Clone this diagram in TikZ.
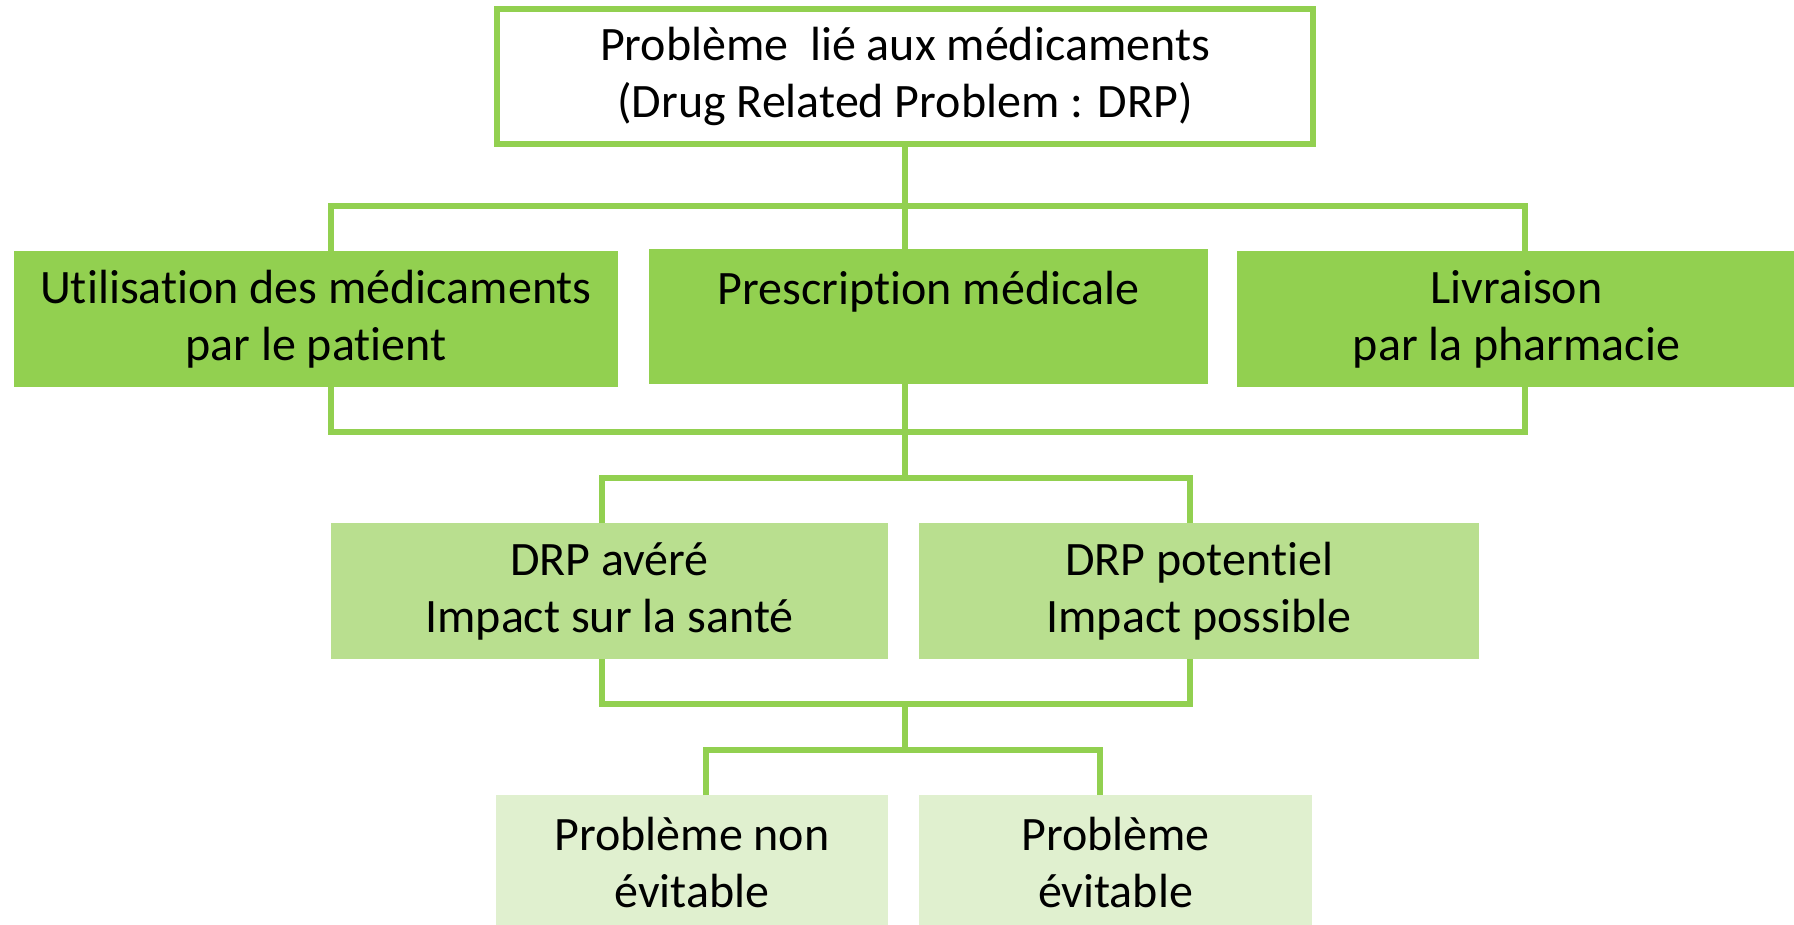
\documentclass[tikz,border=0pt]{standalone}
\usepackage{fontspec}
\setmainfont{Carlito}[Ligatures=NoCommon]
\definecolor{drpgreen}{RGB}{146, 208, 80}
\definecolor{drpmid}{RGB}{185, 223, 143}
\definecolor{drplight}{RGB}{224, 240, 207}
\usepackage{tikz}
\usetikzlibrary{positioning, calc}

\tikzset{
  box/.style={inner sep=0pt, outer sep=0pt, align=center, text=black,
    font=\fontsize{48}{57}\selectfont},
  rootbox/.style={box, draw=drpgreen, line width=6pt, fill=white},
  causebox/.style={box, fill=drpgreen},
  kindbox/.style={box, fill=drpmid},
  avoidbox/.style={box, fill=drplight},
  link/.style={draw=drpgreen, line width=6pt},
}

\begin{document}
\begin{tikzpicture}[x=1pt, y=-1pt]
  \useasboundingbox (0,0) rectangle (1794,925);
  \clip (0,0) rectangle (1794,925);

  % root
  \node[rootbox, minimum width=816pt, minimum height=135pt] (drp) at (905, 76.5) {
    Problème~ lié aux médicaments\\
    (Drug Related Problem : DRP)
  };

  % origins
  \node[causebox, minimum width=604pt, minimum height=136pt] (usage) at (316, 319) {Utilisation des médicaments\\par le patient};
  \node[causebox, minimum width=559pt, minimum height=135pt] (presc) at (928.5, 316.5) {Prescription médicale\\\mbox{}};
  \node[causebox, minimum width=559pt, minimum height=136pt] (deliv) at (1516.5, 319) {Livraison\\par la pharmacie};

  % kinds
  \node[kindbox, minimum width=557pt, minimum height=136pt] (proven) at (609.5, 591) {DRP avéré\\Impact sur la santé};
  \node[kindbox, minimum width=560pt, minimum height=136pt] (potent) at (1199, 591) {DRP potentiel\\Impact possible};

  % avoidability
  \node[avoidbox, minimum width=392pt, minimum height=136pt] (unavoid) at (692, 863) {Problème non\\évitable};
  \node[avoidbox, minimum width=393pt, minimum height=136pt] (avoid) at (1115.5, 863) {Problème\\évitable};

  % junctions
  \coordinate (topL) at (331, 206);
  \coordinate (topR) at (1525, 206);
  \coordinate (topM) at (905, 206);
  \coordinate (midL) at (331, 432);
  \coordinate (midR) at (1525, 432);
  \coordinate (midM) at (905, 432);
  \coordinate (kindL) at (602, 478);
  \coordinate (kindR) at (1190, 478);
  \coordinate (kindM) at (905, 478);
  \coordinate (lowL) at (602, 704);
  \coordinate (lowR) at (1190, 704);
  \coordinate (lowM) at (905, 704);
  \coordinate (avL) at (706, 750);
  \coordinate (avR) at (1100, 750);
  \coordinate (avM) at (905, 750);

  \draw[link] (drp.south) -- (topM);
  \draw[link] (topL |- usage.north) -- (topL) -- (topR) -- (topR |- deliv.north);
  \draw[link] (topM) -- (topM |- presc.north);

  \draw[link] (midL |- usage.south) -- (midL) -- (midR) -- (midR |- deliv.south);
  \draw[link] (midM |- presc.south) -- (kindM);
  \draw[link] (kindL |- proven.north) -- (kindL) -- (kindR) -- (kindR |- potent.north);

  \draw[link] (lowL |- proven.south) -- (lowL) -- (lowR) -- (lowR |- potent.south);
  \draw[link] (lowM) -- (avM);
  \draw[link] (avL |- unavoid.north) -- (avL) -- (avR) -- (avR |- avoid.north);
\end{tikzpicture}
\end{document}
